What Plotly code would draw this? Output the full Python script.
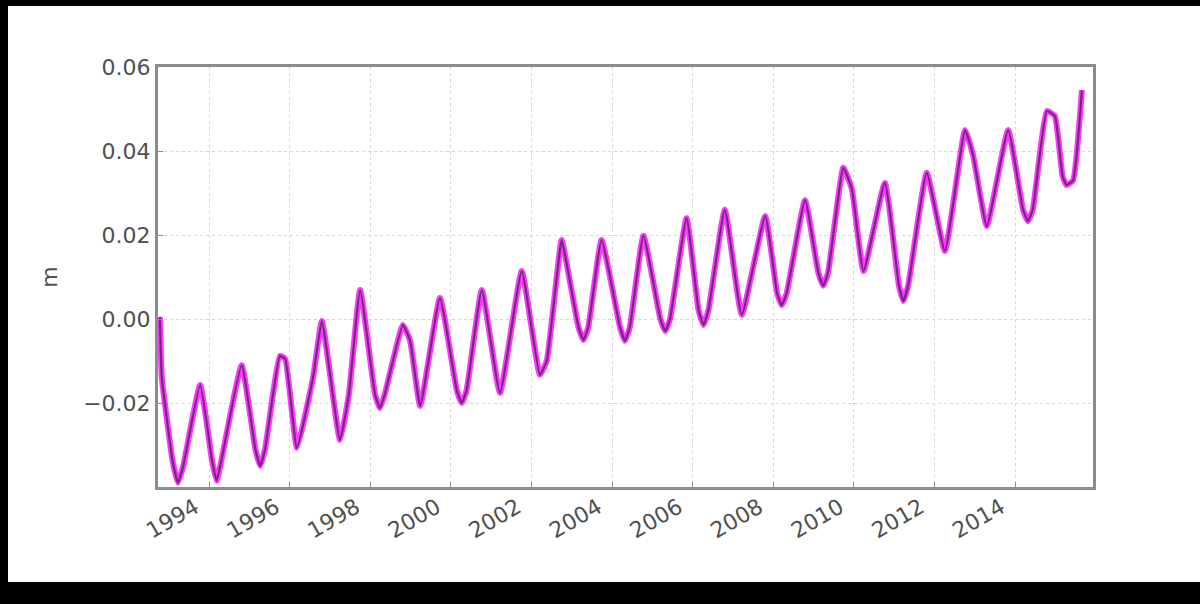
import plotly.graph_objects as go

# Decimal year and sea level anomaly (m)
years = [1992.78, 1992.83, 1993.10, 1993.23, 1993.36, 1993.78, 1994.08, 1994.19, 1994.30,
         1994.81, 1995.15, 1995.27, 1995.39, 1995.76, 1995.89,
         1996.18, 1996.58, 1996.80, 1997.25, 1997.47, 1997.75, 1998.12, 1998.24, 1998.36,
         1998.81, 1998.99, 1999.24, 1999.73, 2000.15, 2000.27, 2000.39, 2000.77, 2001.22,
         2001.76, 2002.21, 2002.38, 2002.75, 2002.88, 2003.17, 2003.29, 2003.41, 2003.74,
         2004.20, 2004.32, 2004.44, 2004.78, 2005.20, 2005.32, 2005.44, 2005.85, 2006.15,
         2006.27, 2006.39, 2006.80, 2007.22, 2007.80, 2008.10, 2008.21, 2008.33, 2008.79,
         2009.12, 2009.24, 2009.36, 2009.74, 2009.95, 2010.24, 2010.77, 2011.12, 2011.23,
         2011.35, 2011.81, 2012.26, 2012.76, 2012.96, 2013.30, 2013.83, 2014.20, 2014.32,
         2014.44, 2014.79, 2014.99, 2015.18, 2015.28, 2015.44, 2015.66]
sea_level = [0.0005, -0.014, -0.034, -0.039, -0.035, -0.0157, -0.034, -0.0385, -0.034,
             -0.011, -0.031, -0.035, -0.031, -0.0088, -0.0095,
             -0.0307, -0.014, -0.0005, -0.0288, -0.018, 0.0069, -0.018, -0.0212, -0.018,
             -0.0014, -0.0052, -0.0207, 0.005, -0.017, -0.020, -0.017, 0.0069, -0.0176,
             0.0114, -0.0133, -0.010, 0.0188, 0.0129, -0.002, -0.005, -0.002, 0.0188,
             -0.002, -0.0052, -0.002, 0.0198, 0.000, -0.0029, 0.000, 0.024, 0.002,
             -0.0014, 0.002, 0.026, 0.001, 0.0245, 0.006, 0.0033, 0.006, 0.0283,
             0.011, 0.0079, 0.011, 0.036, 0.031, 0.0114, 0.0324, 0.008, 0.0043,
             0.008, 0.0348, 0.0162, 0.045, 0.039, 0.0221, 0.045, 0.026, 0.0233,
             0.026, 0.0495, 0.0483, 0.034, 0.0319, 0.0330, 0.0545]

x_tick_vals = [1994, 1996, 1998, 2000, 2002, 2004, 2006, 2008, 2010, 2012, 2014]
x_tick_text = [str(v) for v in x_tick_vals]
y_tick_vals = [-0.02, 0.00, 0.02, 0.04, 0.06]
y_tick_text = ["\u22120.02", "0.00", "0.02", "0.04", "0.06"]

W, H = 1200, 604
L, R, T, B = 158, 107, 67, 117
pw, ph = W - L - R, H - T - B

fig = go.Figure()
fig.add_trace(go.Scatter(x=years, y=sea_level, mode="lines",
                         line=dict(color="#ff22ff", width=6, shape="spline", smoothing=0.4),
                         opacity=0.9, showlegend=False))
fig.add_trace(go.Scatter(x=years, y=sea_level, mode="lines",
                         line=dict(color="#5a2a66", width=2.2, shape="spline", smoothing=0.4),
                         opacity=0.85, showlegend=False))

font = dict(family="DejaVu Sans", size=22, color="#505050")
fig.update_xaxes(range=[1992.734, 2015.935], tickvals=x_tick_vals, ticktext=x_tick_text,
                 tickangle=-30, showgrid=True, gridcolor="#d6d6d6", griddash="dot", gridwidth=1,
                 showline=True, mirror=True, linecolor="#8c8c8c", linewidth=3,
                 ticks="inside", ticklen=5, tickcolor="#8c8c8c", tickfont=font, zeroline=False,
                 ticklabelshift=-14, ticklabelstandoff=-4)
fig.update_yaxes(range=[-0.04, 0.06], tickvals=y_tick_vals, ticktext=y_tick_text,
                 showgrid=True, gridcolor="#d6d6d6", griddash="dot", gridwidth=1,
                 showline=True, mirror=True, linecolor="#8c8c8c", linewidth=3,
                 ticks="inside", ticklen=5, tickcolor="#8c8c8c", tickfont=font, zeroline=False,
                 title=dict(text="m", font=font, standoff=20))

def px_x(p):
    return (p - L) / pw

def px_y(p):
    return (H - B - p) / ph

shapes = [
    dict(type="rect", xref="paper", yref="paper", x0=px_x(-5), x1=px_x(W + 5),
         y0=px_y(6), y1=px_y(-5), fillcolor="black", line=dict(width=0)),
    dict(type="rect", xref="paper", yref="paper", x0=px_x(-5), x1=px_x(8),
         y0=px_y(W), y1=px_y(-5), fillcolor="black", line=dict(width=0)),
    dict(type="rect", xref="paper", yref="paper", x0=px_x(-5), x1=px_x(W + 5),
         y0=px_y(H + 5), y1=px_y(582), fillcolor="black", line=dict(width=0)),
]

fig.update_layout(width=W, height=H, autosize=False,
                  margin=dict(l=L, r=R, t=T, b=B, pad=0),
                  paper_bgcolor="white", plot_bgcolor="white",
                  shapes=shapes, font=font)

fig.write_html("out.html", config={"displayModeBar": False},
               post_script="document.body.style.margin='0';document.body.style.overflow='hidden';")
